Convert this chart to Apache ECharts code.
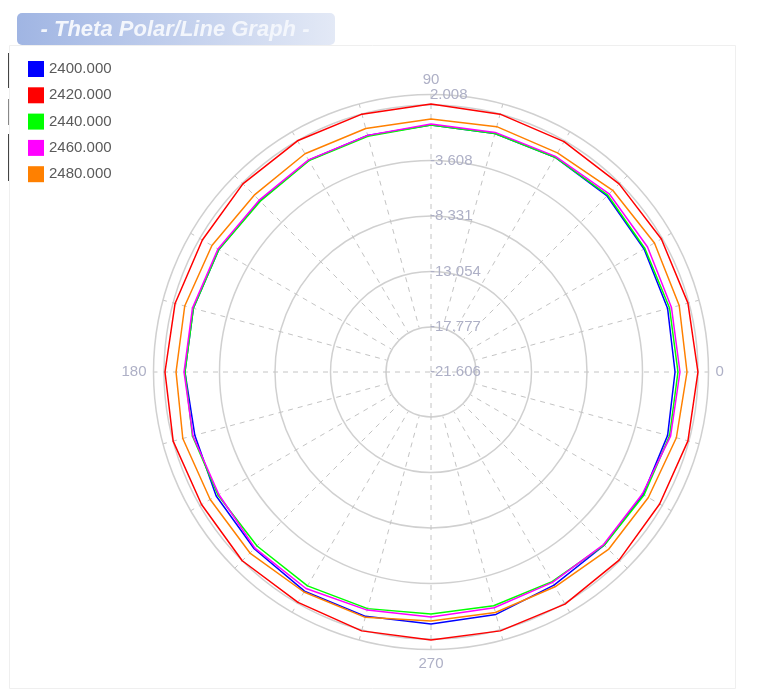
<!DOCTYPE html>
<html>
<head>
<meta charset="utf-8">
<script src="https://cdn.jsdelivr.net/npm/echarts@6/dist/echarts.min.js"></script>
<style>
html,body{margin:0;padding:0;background:#ffffff;}
#chart{width:761px;height:691px;}
</style>
</head>
<body>
<div id="chart"></div>
<script>
// ---- data ----
const angles = [0,15,30,45,60,75,90,105,120,135,150,165,180,195,210,225,240,255,270,285,300,315,330,345];
const seriesNames = ['2400.000','2420.000','2440.000','2460.000','2480.000'];
const values2400 = [-0.84,-0.76,-0.67,-0.42,-0.50,-0.59,-0.59,-0.76,-0.80,-1.01,-0.76,-0.67,-0.67,-0.80,-0.50,-0.33,-0.08,-0.08,-0.16,-0.25,-0.67,-0.76,-0.76,-0.76];
const values2420 = [1.11,1.03,1.03,1.03,1.03,1.11,1.20,1.11,1.11,1.03,0.86,0.94,1.03,1.11,0.94,1.11,1.03,1.20,1.20,1.20,1.20,1.03,0.86,1.03];
const values2440 = [-0.59,-0.59,-0.59,-0.33,-0.50,-0.59,-0.59,-0.84,-0.84,-1.06,-0.76,-0.67,-0.67,-0.59,-0.67,-0.67,-0.59,-0.76,-1.01,-1.01,-1.01,-0.76,-0.67,-0.59];
const values2460 = [-0.42,-0.42,-0.33,-0.16,-0.42,-0.50,-0.50,-0.76,-0.76,-0.93,-0.67,-0.59,-0.59,-0.63,-0.76,-0.42,-0.33,-0.63,-0.76,-0.84,-0.93,-0.84,-0.84,-0.50];
const values2480 = [0.18,0.26,0.35,0.26,-0.08,0.01,-0.08,-0.16,-0.16,-0.33,-0.08,0.09,0.09,0.26,0.09,0.18,0.01,0.01,-0.42,-0.42,-0.50,-0.25,-0.25,0.01];
const radialMin = -21.606;
const radialMax = 2.008;
const radialGridValues = [-17.777,-13.054,-8.331,-3.608,1.115];
const radialLabelValues = [-21.606,-17.777,-13.054,-8.331,-3.608,2.008];
const angleLabelValues = [0,90,180,270];

// ---- styling ----
const seriesColors = ['#0000ff','#ff0000','#00ff00','#ff00ff','#ff8000'];
const allValues = [values2400,values2420,values2440,values2460,values2480];
const FONT = "'Liberation Sans', Arial, sans-serif";
const labelColor = '#aeb0c6';
const gridColor = '#d0d0d0';
const spokeColor = '#c4c4c4';
const CENTER = [431, 372];
const R_OUT = 277.5;
const R_GRID = 268;
const R_IN = 46;

function toPairs(vals){
  const d = angles.map((a,i)=>[vals[i], a]);
  d.push([vals[0], 360]);
  return d;
}

const hiddenRadius = {min: radialMin, max: radialMax, show: false};

const option = {
  backgroundColor: '#ffffff',
  animation: false,
  legend: {
    orient: 'vertical',
    left: 23, top: 56,
    itemWidth: 16, itemHeight: 16, itemGap: 10.3,
    icon: 'rect',
    textStyle: {fontSize: 15, color: '#5a5a5a', fontFamily: FONT},
    data: seriesNames
  },
  polar: [
    {center: CENTER, radius: R_OUT},
    {center: CENTER, radius: [R_IN, R_GRID]},
    {center: CENTER, radius: [0, R_IN]},
    {center: CENTER, radius: R_OUT}
  ],
  angleAxis: [
    {
      polarIndex: 0, type: 'value', min: 0, max: 360, interval: 15,
      startAngle: 0, clockwise: false,
      axisLine: {show: true, lineStyle: {color: gridColor, width: 1.5}},
      axisTick: {show: true, inside: true, length: 4, lineStyle: {color: '#c4c4c4'}},
      axisLabel: {
        show: true, color: labelColor, fontSize: 15, fontFamily: FONT, margin: 7,
        formatter: v => (angleLabelValues.indexOf(v) >= 0 ? String(v) : '')
      },
      splitLine: {show: false}
    },
    {
      polarIndex: 1, type: 'value', min: 0, max: 360, interval: 15,
      startAngle: 0, clockwise: false,
      axisLine: {show: false}, axisTick: {show: false}, axisLabel: {show: false},
      splitLine: {show: true, lineStyle: {color: spokeColor, width: 1, type: [5, 5]}}
    },
    {
      polarIndex: 2, type: 'value', min: 0, max: 360, interval: 90,
      startAngle: 0, clockwise: false,
      axisLine: {show: false}, axisTick: {show: false}, axisLabel: {show: false},
      splitLine: {show: true, lineStyle: {color: spokeColor, width: 1, type: [5, 5]}}
    },
    {
      polarIndex: 3, type: 'value', min: 0, max: 360, startAngle: 90, show: false
    }
  ],
  radiusAxis: [
    Object.assign({polarIndex: 0}, hiddenRadius),
    Object.assign({polarIndex: 1}, hiddenRadius),
    Object.assign({polarIndex: 2}, hiddenRadius),
    {
      polarIndex: 3, type: 'value', min: radialMin, max: radialMax,
      axisLine: {show: false},
      axisTick: {show: false, customValues: radialGridValues},
      axisLabel: {
        show: true, customValues: radialLabelValues,
        color: labelColor, fontSize: 15, fontFamily: FONT,
        margin: 1, align: 'left', verticalAlign: 'middle',
        formatter: v => Number(v).toFixed(3)
      },
      splitLine: {show: true, lineStyle: {color: gridColor, width: 1.5}}
    }
  ],
  graphic: [
    {
      type: 'rect', z: -1, silent: true,
      shape: {x: 9.5, y: 45.5, width: 726, height: 643},
      style: {fill: 'none', stroke: '#efefef', lineWidth: 1}
    },
    {type: 'line', silent: true, shape: {x1: 8.5, y1: 53, x2: 8.5, y2: 88}, style: {stroke: '#444', lineWidth: 1}},
    {type: 'line', silent: true, shape: {x1: 8.5, y1: 99, x2: 8.5, y2: 125}, style: {stroke: '#888', lineWidth: 1}},
    {type: 'line', silent: true, shape: {x1: 8.5, y1: 134, x2: 8.5, y2: 181}, style: {stroke: '#444', lineWidth: 1}},
    {
      type: 'rect', silent: true,
      shape: {x: 17, y: 13, width: 318, height: 32, r: 5},
      style: {
        fill: new echarts.graphic.LinearGradient(0, 0, 1, 0, [
          {offset: 0, color: '#a0b5e3'},
          {offset: 1, color: '#e3e9f6'}
        ])
      }
    },
    {
      type: 'text', silent: true, x: 175, y: 30,
      style: {
        text: '- Theta Polar/Line Graph -',
        align: 'center', verticalAlign: 'middle',
        fill: '#f3f6fc', fontSize: 22, fontWeight: 'bold', fontStyle: 'italic', fontFamily: FONT
      }
    }
  ],
  series: seriesNames.map((name, i) => ({
    name: name,
    type: 'line',
    coordinateSystem: 'polar',
    polarIndex: 0,
    showSymbol: false,
    symbol: 'none',
    smooth: false,
    lineStyle: {color: seriesColors[i], width: 1.5},
    itemStyle: {color: seriesColors[i]},
    data: toPairs(allValues[i])
  }))
};

const chart = echarts.init(document.getElementById('chart'), null, {renderer: 'canvas'});
chart.setOption(option);
</script>
</body>
</html>
